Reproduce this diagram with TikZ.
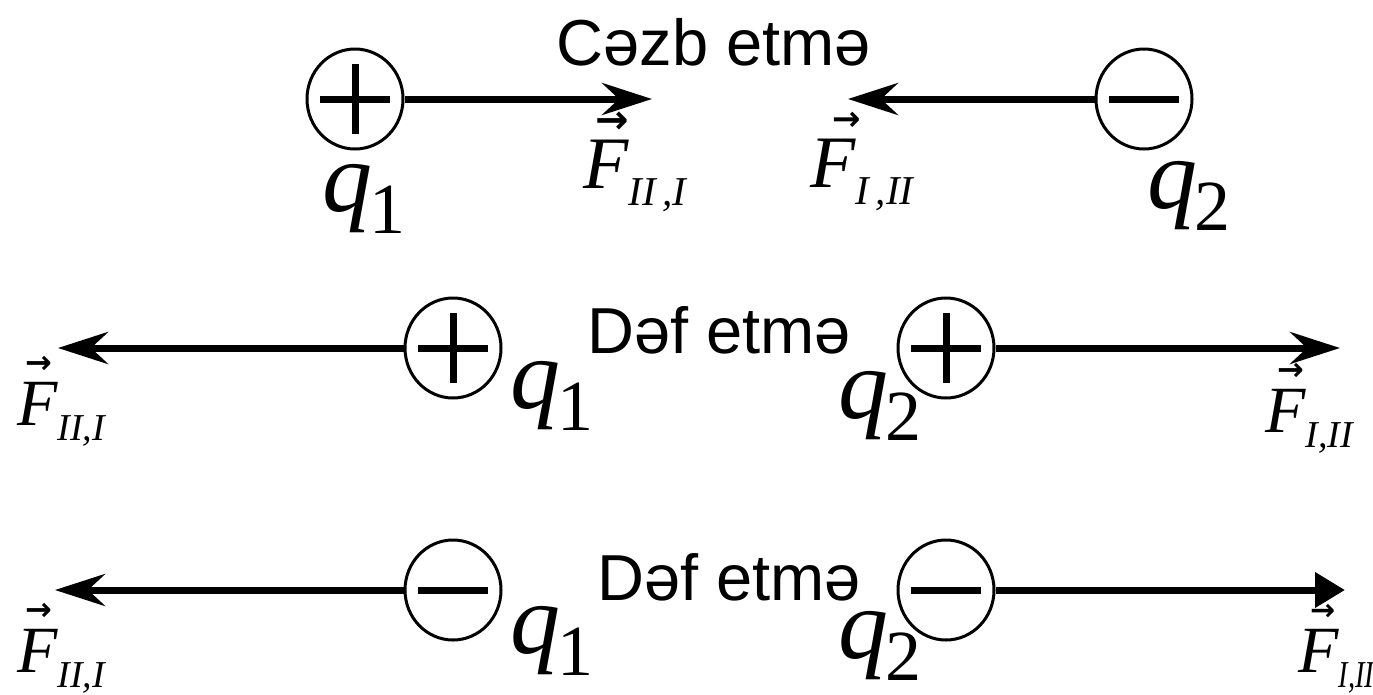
\documentclass[tikz,border=0pt]{standalone}
\usepackage{fontspec}
\setmainfont{Liberation Serif}
\newfontfamily\capfont{Liberation Sans}
\newfontfamily\arrfont{DejaVu Sans}
\usetikzlibrary{arrows.meta,shapes.geometric}
\newcommand{\qlab}[1]{\fontsize{100}{100}\selectfont\itshape q\kern-3pt\raisebox{-22pt}{\fontsize{72}{72}\selectfont\upshape #1}}
% #1 F size, #2 sub size, #3 sub lowering, #4 sub text, #5 arrow size, #6 arrow raise, #7 arrow shift
\newcommand{\flab}[7]{\fontsize{#1}{#1}\selectfont\itshape\makebox[0pt][l]{\hspace*{#7}\raisebox{#6}{\arrfont\bfseries\fontsize{#5}{#5}\selectfont →}}F\raisebox{-#3}{\fontsize{#2}{#2}\selectfont\itshape #4}}
\tikzset{
  charge/.style={ellipse, draw, line width=3pt, minimum width=96pt, minimum height=100pt, inner sep=0pt},
  sign/.style={line width=7pt},
  force/.style={line width=7pt, -{Stealth[length=50pt,width=32pt,inset=17pt]}},
  forcetri/.style={line width=7pt, -{Triangle[length=30pt,width=34pt]}},
  lab/.style={inner sep=0pt, anchor=base west},
  captext/.style={inner sep=0pt, font=\capfont\fontsize{65}{65}\selectfont}
}
\begin{document}
\begin{tikzpicture}[x=1pt,y=-1pt]
\useasboundingbox (0,0) rectangle (1373,694);
% row 1
\node[charge] (c11) at (355,99) {};
\node[charge] (c12) at (1144,99) {};
\draw[sign] ([xshift=-35pt]c11.center) -- ([xshift=35pt]c11.center);
\draw[sign] ([yshift=-35pt]c11.center) -- ([yshift=35pt]c11.center);
\draw[sign] ([xshift=-35pt]c12.center) -- ([xshift=35pt]c12.center);
\coordinate (t11) at (652,99);
\coordinate (t12) at (848,99);
\draw[force] (c11.east) -- (t11);
\draw[force] (c12.west) -- (t12);
\node[captext] (cap1) at (714,42) {Cəzb etmə};
\node[lab] (q11) at (322,211) {\qlab{1}};
\node[lab] (q12) at (1147,208) {\qlab{2}};
\node[lab] (f11) at (583,188) {\flab{74}{41}{17pt}{II\,,I}{40}{55pt}{12pt}};
\node[lab] (f12) at (810,187) {\flab{74}{41}{17pt}{I\,,II}{34}{57pt}{22pt}};
% row 2
\node[charge] (c21) at (453,348) {};
\node[charge] (c22) at (946,348) {};
\draw[sign] ([xshift=-35pt]c21.center) -- ([xshift=35pt]c21.center);
\draw[sign] ([yshift=-35pt]c21.center) -- ([yshift=35pt]c21.center);
\draw[sign] ([xshift=-35pt]c22.center) -- ([xshift=35pt]c22.center);
\draw[sign] ([yshift=-35pt]c22.center) -- ([yshift=35pt]c22.center);
\coordinate (t21) at (58,348);
\coordinate (t22) at (1340,348);
\draw[force] (c21.west) -- (t21);
\draw[force] (c22.east) -- (t22);
\node[captext] (cap2) at (719,330) {Dəf etmə};
\node[lab] (q21) at (510,408) {\qlab{1}};
\node[lab] (q22) at (838,418) {\qlab{2}};
\node[lab] (f21) at (17,425) {\flab{66}{38}{15pt}{II,I}{32}{52pt}{8pt}};
\node[lab] (f22) at (1265,432) {\flab{66}{38}{15pt}{I,II}{32}{52pt}{12pt}};
% row 3
\node[charge] (c31) at (453,590) {};
\node[charge] (c32) at (946,590) {};
\draw[sign] ([xshift=-35pt]c31.center) -- ([xshift=35pt]c31.center);
\draw[sign] ([xshift=-35pt]c32.center) -- ([xshift=35pt]c32.center);
\coordinate (t31) at (55,590);
\coordinate (t32) at (1345,590);
\draw[force] (c31.west) -- (t31);
\draw[forcetri] (c32.east) -- (t32);
\node[captext] (cap3) at (729,577) {Dəf etmə};
\node[lab] (q31) at (510,653) {\qlab{1}};
\node[lab] (q32) at (838,658) {\qlab{2}};
\node[lab] (f31) at (17,672) {\flab{66}{38}{15pt}{II,I}{32}{52pt}{8pt}};
\node[lab] (f32) at (1298,672) {\flab{66}{38}{15pt}{\scalebox{0.75}[1]{I,II}}{30}{52pt}{12pt}};
\end{tikzpicture}
\end{document}
